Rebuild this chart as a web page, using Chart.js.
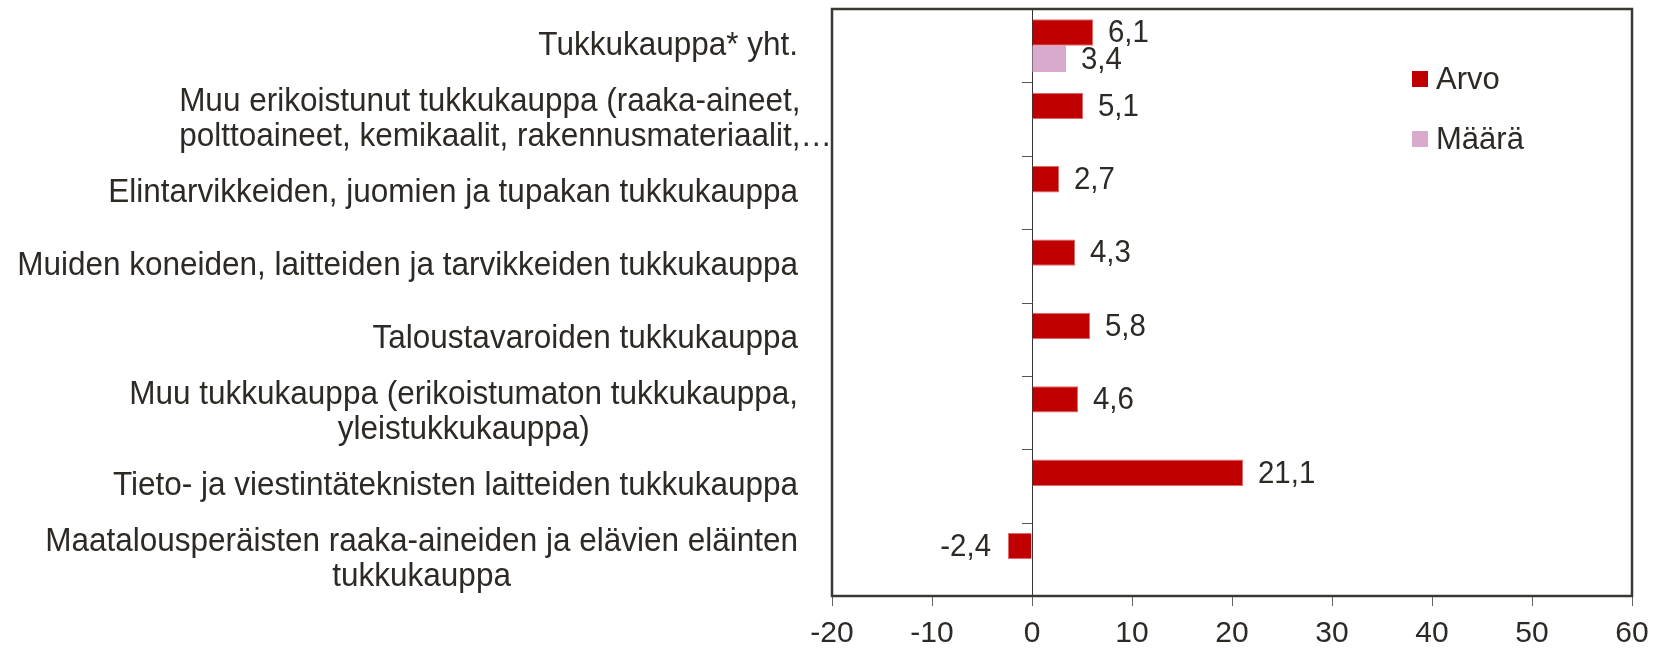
<!DOCTYPE html>
<html>
<head>
<meta charset="utf-8">
<script src="https://cdn.jsdelivr.net/npm/chart.js@4"></script>
<style>
  body { margin: 0; background: #fff; }
  #wrap { width: 1653px; height: 649px; position: relative; }
</style>
</head>
<body>
<div id="wrap"><canvas id="chart"></canvas></div>
<script>
// Chart data
const categories = [
    ['Tukkukauppa* yht.'],
    ['Muu erikoistunut tukkukauppa (raaka-aineet,', 'polttoaineet, kemikaalit, rakennusmateriaalit,…'],
    ['Elintarvikkeiden, juomien ja tupakan tukkukauppa'],
    ['Muiden koneiden, laitteiden ja tarvikkeiden tukkukauppa'],
    ['Taloustavaroiden tukkukauppa'],
    ['Muu tukkukauppa (erikoistumaton tukkukauppa,', 'yleistukkukauppa)'],
    ['Tieto- ja viestintäteknisten laitteiden tukkukauppa'],
    ['Maatalousperäisten raaka-aineiden ja elävien eläinten', 'tukkukauppa']
];
const arvoValues = [6.1, 5.1, 2.7, 4.3, 5.8, 4.6, 21.1, -2.4];
const maaraValues = [3.4, null, null, null, null, null, null, null];
const seriesNames = ['Arvo', 'Määrä'];
const xMin = -20;
const xMax = 60;
const xStep = 10;

const FONT = "'Liberation Sans', Arial, sans-serif";
const TEXT_COLOR = '#2d2a26';
const FRAME_COLOR = '#3b3833';
const LABEL_SX = 0.94; // category labels are a bit squeezed sideways
const VALUE_SX = 0.92; // value labels too

// Format number with comma decimal
function fmt(v) {
    return v.toFixed(1).replace('.', ',');
}

// Draw text squeezed horizontally
function squeezedText(ctx, text, x, y, align, sx) {
    ctx.save();
    ctx.translate(x, y);
    ctx.scale(sx, 1);
    ctx.textAlign = align;
    ctx.fillText(text, 0, 0);
    ctx.restore();
}

// Frame, category ticks at zero line, labels, legend
const decorPlugin = {
    id: 'decor',
    afterDatasetsDraw(chart) {
        const ctx = chart.ctx;
        const area = chart.chartArea;
        const x = chart.scales.x;
        const y = chart.scales.y;
        const zero = x.getPixelForValue(0);

        ctx.save();

        // small category ticks on the zero line
        ctx.strokeStyle = '#555';
        ctx.lineWidth = 1;
        for (let i = 1; i < categories.length; i++) {
            const py = Math.round(y.getPixelForValue(i - 0.5)) + 0.5;
            ctx.beginPath();
            ctx.moveTo(zero - 10, py);
            ctx.lineTo(zero, py);
            ctx.stroke();
        }

        // frame
        ctx.strokeStyle = FRAME_COLOR;
        ctx.lineWidth = 2.5;
        ctx.strokeRect(area.left, area.top, area.right - area.left, area.bottom - area.top);

        ctx.fillStyle = TEXT_COLOR;
        ctx.textBaseline = 'middle';

        // category labels
        ctx.font = `33.5px ${FONT}`;
        const lineH = 35;
        const labelRight = area.left - 34;
        categories.forEach((lines, i) => {
            const cy = y.getPixelForValue(i);
            const widest = Math.max(...lines.map(l => ctx.measureText(l).width)) * LABEL_SX;
            const y0 = cy - (lines.length - 1) * lineH / 2;
            const truncated = lines[lines.length - 1].endsWith('…');
            lines.forEach((line, j) => {
                if (truncated) {
                    squeezedText(ctx, line, area.left - widest, y0 + j * lineH, 'left', LABEL_SX);
                } else {
                    squeezedText(ctx, line, labelRight - widest / 2, y0 + j * lineH, 'center', LABEL_SX);
                }
            });
        });

        // x tick labels
        ctx.font = `30px ${FONT}`;
        ctx.textAlign = 'center';
        x.ticks.forEach(t => {
            ctx.fillText(String(t.value), x.getPixelForValue(t.value), area.bottom + 38);
        });

        // value labels
        ctx.font = `32px ${FONT}`;
        chart.data.datasets.forEach((ds, di) => {
            const meta = chart.getDatasetMeta(di);
            meta.data.forEach((bar, i) => {
                const v = ds.data[i];
                if (v === null || v === undefined) return;
                if (v >= 0) {
                    squeezedText(ctx, fmt(v), bar.x + 15, bar.y + 1, 'left', VALUE_SX);
                } else {
                    squeezedText(ctx, fmt(v), bar.x - 17, bar.y + 1, 'right', VALUE_SX);
                }
            });
        });

        // legend
        ctx.font = `31px ${FONT}`;
        const lx = area.right - 220;
        chart.data.datasets.forEach((ds, di) => {
            const ly = area.top + 70 + di * 60;
            ctx.fillStyle = ds.backgroundColor;
            ctx.fillRect(lx, ly - 8, 16, 16);
            ctx.fillStyle = TEXT_COLOR;
            ctx.textAlign = 'left';
            ctx.fillText(ds.label, lx + 24, ly + 1);
        });

        ctx.restore();
    }
};

const ctx = document.getElementById('chart').getContext('2d');

new Chart(ctx, {
    type: 'bar',
    data: {
        labels: categories,
        datasets: [
            {
                label: seriesNames[0],
                data: arvoValues,
                backgroundColor: '#C00000',
                borderColor: '#E06A6A',
                borderWidth: 1,
                barPercentage: 1.0,
                categoryPercentage: 0.72
            },
            {
                label: seriesNames[1],
                data: maaraValues,
                backgroundColor: '#D8AACC',
                barPercentage: 1.0,
                categoryPercentage: 0.72
            }
        ]
    },
    options: {
        indexAxis: 'y',
        responsive: true,
        maintainAspectRatio: false,
        animation: false,
        layout: {
            padding: { top: 9, right: 21, left: 0, bottom: 0 }
        },
        plugins: {
            legend: { display: false },
            tooltip: { enabled: false }
        },
        scales: {
            x: {
                type: 'linear',
                position: 'bottom',
                min: xMin,
                max: xMax,
                afterFit: (scale) => { scale.height = 53; },
                ticks: {
                    stepSize: xStep,
                    display: false
                },
                grid: {
                    drawOnChartArea: true,
                    color: (c) => (c.tick && c.tick.value === 0 ? '#333' : 'transparent'),
                    lineWidth: 1,
                    tickColor: '#666',
                    tickLength: 10,
                    tickWidth: 1
                },
                border: { display: false }
            },
            y: {
                afterFit: (scale) => { scale.width = 832; },
                ticks: { display: false },
                grid: { display: false },
                border: { display: false }
            }
        }
    },
    plugins: [decorPlugin]
});
</script>
</body>
</html>
